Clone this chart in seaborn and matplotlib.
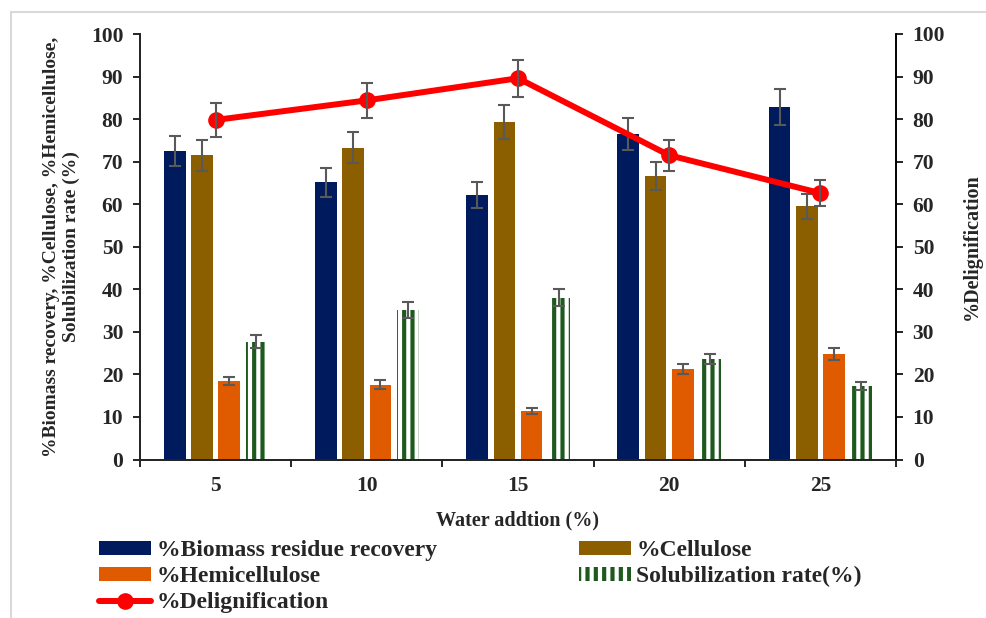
import numpy as np
import pandas as pd
import matplotlib
matplotlib.use("Agg")
import matplotlib.pyplot as plt
import seaborn as sns
from matplotlib.patches import Patch, Rectangle
from matplotlib.lines import Line2D

# ---- data ----
water = ["5", "10", "15", "20", "25"]
biomass = [72.5, 65.1, 62.1, 76.5, 82.9]
biomass_err = [3.6, 3.3, 3.1, 3.8, 4.2]
cellulose = [71.5, 73.3, 79.4, 66.6, 59.5]
cellulose_err = [3.6, 3.7, 4.0, 3.3, 2.9]
hemicellulose = [18.4, 17.6, 11.4, 21.3, 24.7]
hemicellulose_err = [1.0, 1.0, 0.6, 1.1, 1.4]
solubilization = [27.7, 35.1, 38.0, 23.7, 17.3]
solubilization_err = [1.5, 1.9, 2.0, 1.2, 1.0]
delignification = [79.8, 84.4, 89.6, 71.5, 62.6]
delignification_err = [4.0, 4.1, 4.4, 3.6, 3.1]

series_names = ["%Biomass residue recovery", "%Cellulose", "%Hemicellulose",
                "Solubilization rate(%)"]
line_name = "%Delignification"

c_bio = "#001a5e"
c_cel = "#8b5f00"
c_hem = "#e05a00"
c_sol = "#1e5a1e"
c_line = "#ff0000"
c_err = "#595959"

sns.set_theme(style="white")
plt.rcParams["font.family"] = ["Liberation Serif", "DejaVu Serif"]
plt.rcParams["font.weight"] = "bold"
plt.rcParams["hatch.linewidth"] = 3.0
plt.rcParams["hatch.color"] = c_sol

vals = [biomass, cellulose, hemicellulose, solubilization]
errs = [biomass_err, cellulose_err, hemicellulose_err, solubilization_err]
rows = []
for name, v in zip(series_names, vals):
    for w, y in zip(water, v):
        rows.append({"water": w, "series": name, "value": y})
df = pd.DataFrame(rows)

fig = plt.figure(figsize=(9.87, 6.18), dpi=100)
ax = fig.add_axes([140 / 987, 1 - 459.5 / 618, 756 / 987, 425.5 / 618])

sns.barplot(data=df, x="water", y="value", hue="series", order=water,
            hue_order=series_names, palette=[c_bio, c_cel, c_hem, c_sol],
            width=0.72, gap=0.2, saturation=1, errorbar=None, legend=False,
            linewidth=0, ax=ax)

for bar in ax.containers[3]:
    bar.set_facecolor("white")
    bar.set_edgecolor(c_sol)
    bar.set_hatch("||")
    bar.set_linewidth(0)

for cont, e in zip(ax.containers, errs):
    xs = [b.get_x() + b.get_width() / 2 for b in cont]
    ys = [b.get_height() for b in cont]
    ax.errorbar(xs, ys, yerr=e, fmt="none", ecolor=c_err, elinewidth=1.5,
                capsize=4.5, capthick=1.5, zorder=5)

TICK_FS = 15.5
LAB_FS = 14.5

ax.set_xlim(-0.5, 4.5)
ax.set_ylim(0, 100)
ax.set_yticks(np.arange(0, 101, 10))
ax.set_xticks(np.arange(5))
ax.set_xticks(np.arange(-0.5, 4.6, 1), minor=True)
ax.tick_params(axis="x", which="major", length=0, pad=12, labelsize=TICK_FS)
ax.tick_params(axis="x", which="minor", length=5, width=1.2, direction="out",
               color="black", bottom=True)
ax.tick_params(axis="y", length=5, width=1.2, direction="out", pad=7,
               labelsize=TICK_FS, color="black", left=True)
ax.set_xlabel("Water addtion (%)", fontsize=LAB_FS, fontweight="bold", labelpad=10)
ax.set_ylabel("%Biomass recovery, %Cellulose, %Hemicellulose,\nSolubilization rate (%)",
              fontsize=14, fontweight="bold", labelpad=8, linespacing=1.15)
for s in ["left", "bottom", "right"]:
    ax.spines[s].set_color("black")
    ax.spines[s].set_linewidth(1.2)
    ax.spines[s].set_visible(True)
ax.spines["top"].set_visible(False)
for lab in ax.get_xticklabels() + ax.get_yticklabels():
    lab.set_fontweight("bold")

ax2 = ax.twinx()
sns.lineplot(x=np.arange(5), y=delignification, ax=ax2, color=c_line,
             linewidth=4.3, marker="o", markersize=12, markeredgewidth=0,
             zorder=4)
ax2.errorbar(np.arange(5), delignification, yerr=delignification_err,
             fmt="none", ecolor=c_err, elinewidth=1.5, capsize=4.5,
             capthick=1.5, zorder=6)
ax2.set_ylim(0, 100)
ax2.set_yticks(np.arange(0, 101, 10))
ax2.tick_params(axis="y", length=5, width=1.2, direction="out", pad=7,
                labelsize=TICK_FS, color="black", right=True)
ax2.set_ylabel("%Delignification", fontsize=LAB_FS, fontweight="bold",
               rotation=90, labelpad=12)
ax2.spines["top"].set_visible(False)
ax2.spines["right"].set_color("black")
ax2.spines["right"].set_linewidth(1.2)
for lab in ax2.get_yticklabels():
    lab.set_fontweight("bold")
ax2.grid(False)
ax.grid(False)

handles = [
    Patch(facecolor=c_bio, edgecolor="none"),
    Patch(facecolor=c_hem, edgecolor="none"),
    Line2D([0], [0], color=c_line, lw=4.3, marker="o", markersize=12,
           markeredgewidth=0),
    Patch(facecolor=c_cel, edgecolor="none"),
    Patch(facecolor="white", edgecolor=c_sol, hatch="||", linewidth=0),
]
labels = [series_names[0], series_names[2], line_name, series_names[1],
          series_names[3]]
fig.legend(handles, labels, loc="upper left",
           bbox_to_anchor=(99 / 987, 1 - 540 / 618), ncol=2, frameon=False,
           prop={"family": "Liberation Serif", "weight": "bold", "size": 17},
           handlelength=2.2, handleheight=0.55, handletextpad=0.25,
           columnspacing=6.0, labelspacing=0.22, borderpad=0, borderaxespad=0)

fig.patches.append(Rectangle((11 / 987, -0.05), 1.0, 1 - 12 / 618 + 0.05,
                             transform=fig.transFigure, fill=False,
                             edgecolor="#d9d9d9", linewidth=1.5))

fig.savefig("out.png", dpi=100)
